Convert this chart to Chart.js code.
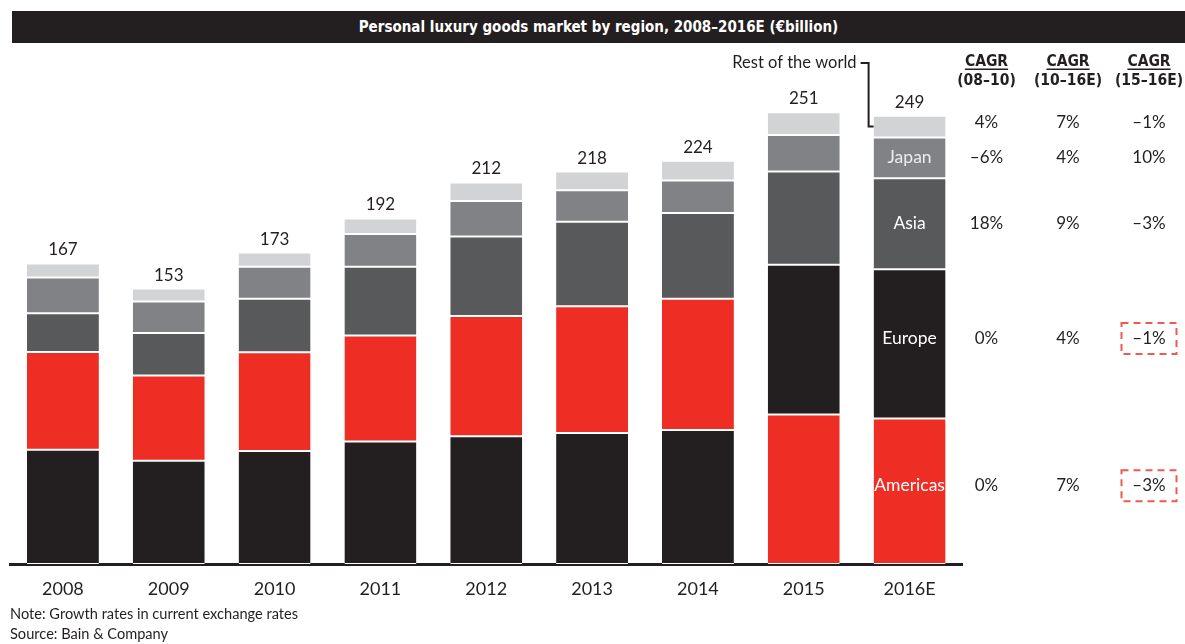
<!DOCTYPE html>
<html>
<head>
<meta charset="utf-8">
<script src="https://cdn.jsdelivr.net/npm/chart.js"></script>
<style>
  html, body { margin: 0; padding: 0; background: #fff; }
  #wrap { position: relative; width: 1185px; height: 644px; overflow: hidden; }
  #chart { position: absolute; left: 0; top: 0; }
  .title {
    position: absolute; left: 12px; top: 11px; width: 1173px; height: 32px;
    background: #231f20; color: #fff;
    font: bold 15px "DejaVu Sans Condensed", "DejaVu Sans", sans-serif;
    font-stretch: condensed;
    display: flex; align-items: center; justify-content: center;
  }
  .note { position: absolute; left: 10px; font: 14.6px Lato, sans-serif; color: #231f20; }
</style>
</head>
<body>
<div id="wrap">
  <canvas id="chart" width="1185" height="644"></canvas>
  <div class="title">Personal luxury goods market by region, 2008–2016E (€billion)</div>
  <div class="note" style="top:605px">Note: Growth rates in current exchange rates</div>
  <div class="note" style="top:625px">Source: Bain &amp; Company</div>
</div>
<script>
// Market size by region, € billion (stacked bottom to top)
const years    = ['2008', '2009', '2010', '2011', '2012', '2013', '2014', '2015', '2016E'];
const americas = [63.5, 57.4, 62.8, 68.1, 71.0, 72.8, 74.5, 83.0, 80.8];
const europe   = [54.3, 47.3, 54.8, 58.8, 66.8, 70.4, 72.9, 83.3, 82.9];
const asia     = [21.5, 23.6, 29.8, 38.2, 44.2, 46.9, 47.6, 51.8, 50.6];
const japan    = [19.9, 17.6, 17.7, 18.3, 19.7, 17.5, 18.0, 20.3, 22.7];
const rest     = [ 7.8,  7.1,  7.9,  8.6, 10.3, 10.4, 11.0, 12.6, 12.0];

const regionNames = ['Americas', 'Europe', 'Asia', 'Japan', 'Rest of the world'];

// Growth table, one entry per region in the same order as regionNames
const cagrPeriods = ['(08–10)', '(10–16E)', '(15–16E)'];
const cagr0810 = ['0%', '0%', '18%', '–6%', '4%'];
const cagr1016 = ['7%', '4%', '9%', '4%', '7%'];
const cagr1516 = ['–3%', '–1%', '–3%', '10%', '–1%'];
const flagged1516 = ['Americas', 'Europe'];

const BLACK = '#231f20', RED = '#ee2e24', DARK = '#58595b', MID = '#808285', LIGHT = '#d1d3d4';
const swapFrom = years.indexOf('2015');

const americasColors = years.map((y, i) => i >= swapFrom ? RED : BLACK);
const europeColors   = years.map((y, i) => i >= swapFrom ? BLACK : RED);

function seg(label, data, color) {
  return {
    label, data, backgroundColor: color,
    borderColor: '#ffffff',
    borderWidth: { top: 1, bottom: 1, left: 0, right: 0 },
    borderSkipped: false,
    barPercentage: 0.68, categoryPercentage: 1
  };
}

const BODY = 'Lato, "Noto Sans", sans-serif';
const COND = '"DejaVu Sans Condensed", "DejaVu Sans", sans-serif';
const colX = [986.5, 1068, 1149];
const rowNudge = [-5.5, -5.5, 0, 0, -4];

const annotate = {
  id: 'annotate',
  afterDatasetsDraw(chart) {
    const ctx = chart.ctx;
    const n = chart.data.datasets.length;
    const last = years.length - 1;
    ctx.save();

    // totals above each stack
    ctx.font = '17px ' + BODY;
    ctx.fillStyle = BLACK;
    ctx.textAlign = 'center';
    ctx.textBaseline = 'alphabetic';
    years.forEach((y, i) => {
      const top = chart.getDatasetMeta(n - 1).data[i];
      const sum = chart.data.datasets.reduce((s, d) => s + d.data[i], 0);
      ctx.fillText(String(Math.round(sum)), top.x, top.y - 8);
    });

    // row positions follow the segments of the last bar
    const rowY = chart.data.datasets.map((d, k) => {
      const el = chart.getDatasetMeta(k).data[last];
      return (el.y + el.base) / 2 + rowNudge[k];
    });

    // region names inside the last bar
    ctx.font = '17.5px ' + BODY;
    ctx.textBaseline = 'middle';
    for (let k = 0; k < 4; k++) {
      const el = chart.getDatasetMeta(k).data[last];
      ctx.fillStyle = k === 3 ? '#ececec' : '#ffffff';
      ctx.fillText(regionNames[k], el.x, rowY[k]);
    }

    // "Rest of the world" call-out
    const rw = chart.getDatasetMeta(n - 1).data[last];
    const left = rw.x - rw.width / 2;
    const midRw = (rw.y + rw.base) / 2;
    ctx.font = '16.5px ' + BODY;
    ctx.fillStyle = BLACK;
    ctx.textAlign = 'right';
    ctx.fillText(regionNames[4], left - 17, 63);
    ctx.strokeStyle = BLACK;
    ctx.lineWidth = 2;
    ctx.beginPath();
    ctx.moveTo(left - 13, 63);
    ctx.lineTo(left - 5, 63);
    ctx.lineTo(left - 5, midRw);
    ctx.lineTo(left, midRw);
    ctx.stroke();

    // growth table headers
    ctx.textAlign = 'center';
    ctx.fillStyle = BLACK;
    cagrPeriods.forEach((p, c) => {
      ctx.font = 'bold 15.5px ' + COND;
      ctx.textBaseline = 'middle';
      ctx.fillText('CAGR', colX[c], 62);
      const w = ctx.measureText('CAGR').width;
      ctx.fillRect(colX[c] - w / 2, 68.5, w, 1.5);
      ctx.fillText(p, colX[c], 81);
    });

    // growth table values
    ctx.font = '17px ' + BODY;
    ctx.textBaseline = 'middle';
    [cagr0810, cagr1016, cagr1516].forEach((col, c) => {
      col.forEach((v, k) => ctx.fillText(v, colX[c], rowY[k]));
    });

    // dashed highlight boxes
    ctx.strokeStyle = '#ef5a50';
    ctx.lineWidth = 2;
    ctx.setLineDash([7, 5]);
    flagged1516.forEach(name => {
      const k = regionNames.indexOf(name);
      ctx.strokeRect(colX[2] - 27.5, rowY[k] - 15.5, 55, 31);
    });
    ctx.restore();
  }
};

new Chart(document.getElementById('chart'), {
  type: 'bar',
  data: {
    labels: years,
    datasets: [
      seg(regionNames[0], americas, americasColors),
      seg(regionNames[1], europe, europeColors),
      seg(regionNames[2], asia, DARK),
      seg(regionNames[3], japan, MID),
      seg(regionNames[4], rest, LIGHT)
    ]
  },
  options: {
    responsive: false,
    animation: false,
    devicePixelRatio: 1,
    layout: { padding: { left: 10, right: 222.5, top: 60, bottom: 0 } },
    plugins: { legend: { display: false }, tooltip: { enabled: false } },
    scales: {
      x: {
        stacked: true,
        grid: { display: false, drawTicks: false },
        border: { display: true, color: BLACK, width: 3 },
        ticks: { color: BLACK, font: { family: 'Lato', size: 18 }, padding: 14 },
        afterFit(scale) { scale.height = 80; }
      },
      y: { stacked: true, display: false, min: 0, max: 280 }
    }
  },
  plugins: [annotate]
});
</script>
</body>
</html>
